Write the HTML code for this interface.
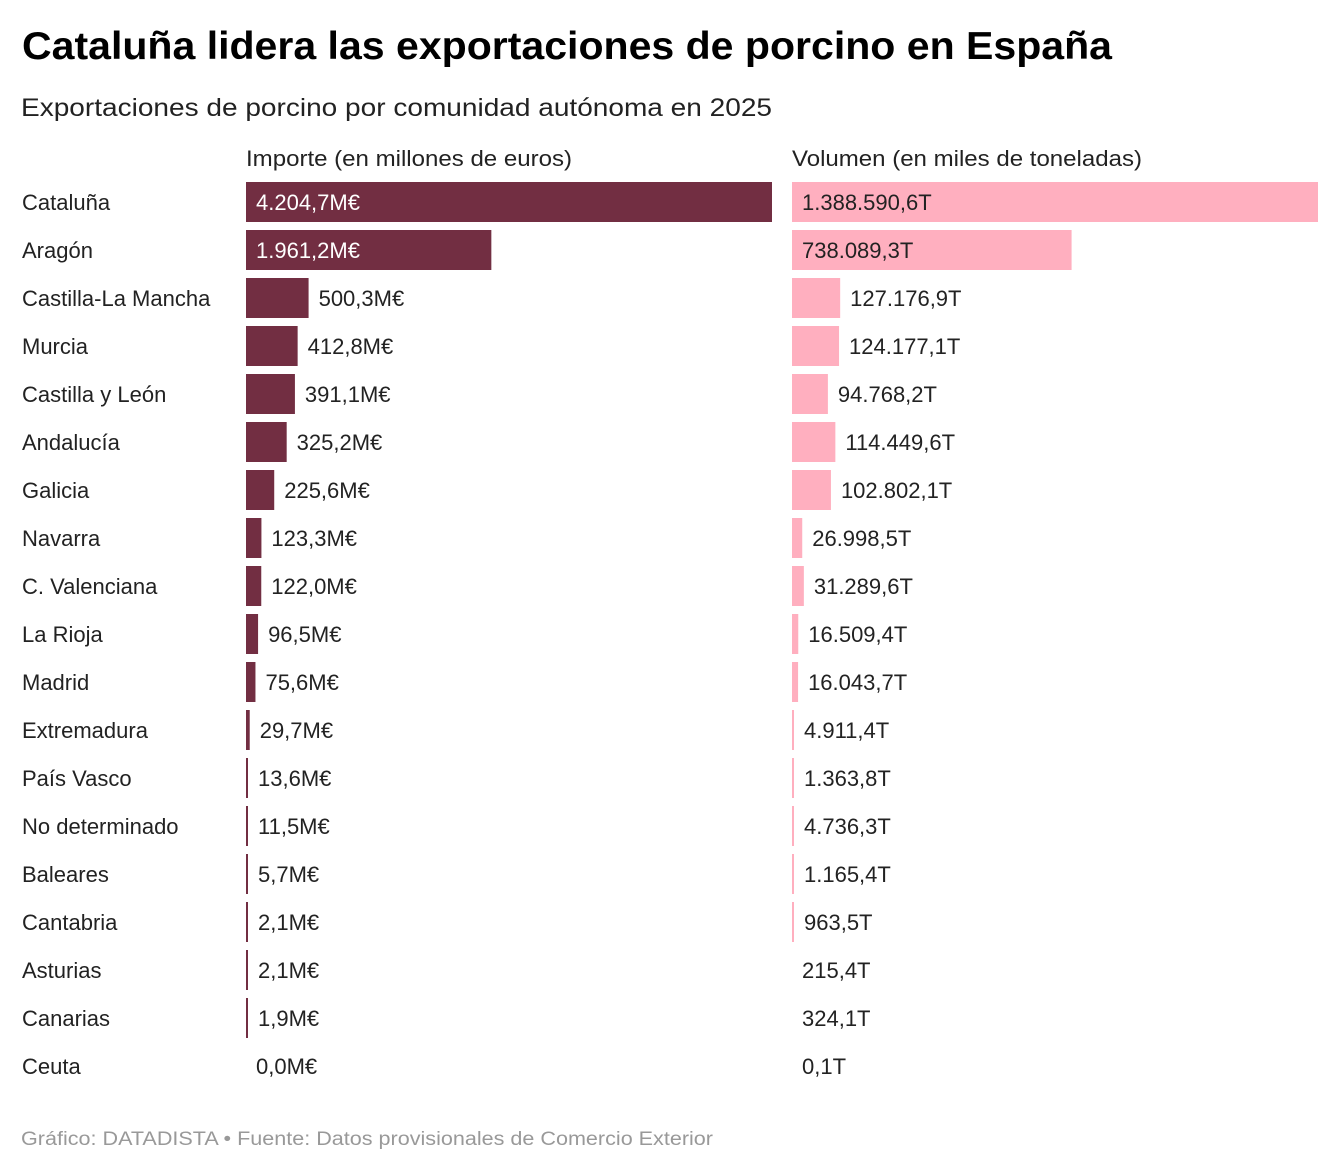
<!DOCTYPE html>
<html><head><meta charset="utf-8"><style>
body{margin:0;background:#fff;}
svg{display:block;font-family:"Liberation Sans",sans-serif;}
</style></head><body>
<svg id="chart" width="1340" height="1172" viewBox="0 0 1340 1172">
<text x="22" y="59" font-size="39" font-weight="bold" fill="#000" textLength="1090" lengthAdjust="spacingAndGlyphs">Cataluña lidera las exportaciones de porcino en España</text>
<text x="21" y="116" font-size="25" fill="#222" textLength="751" lengthAdjust="spacingAndGlyphs">Exportaciones de porcino por comunidad autónoma en 2025</text>
<text x="246" y="166" font-size="22" fill="#222" textLength="326" lengthAdjust="spacingAndGlyphs">Importe (en millones de euros)</text>
<text x="792" y="166" font-size="22" fill="#222" textLength="350" lengthAdjust="spacingAndGlyphs">Volumen (en miles de toneladas)</text>
<g id="rows"></g>
<text x="21" y="1145" font-size="19" fill="#999" textLength="692" lengthAdjust="spacingAndGlyphs">Gráfico: DATADISTA • Fuente: Datos provisionales de Comercio Exterior</text>
</svg>
<script>
const regions = ["Cataluña","Aragón","Castilla-La Mancha","Murcia","Castilla y León","Andalucía","Galicia","Navarra","C. Valenciana","La Rioja","Madrid","Extremadura","País Vasco","No determinado","Baleares","Cantabria","Asturias","Canarias","Ceuta"];
const importe = [4204.7,1961.2,500.3,412.8,391.1,325.2,225.6,123.3,122.0,96.5,75.6,29.7,13.6,11.5,5.7,2.1,2.1,1.9,0.0];
const volumen = [1388590.6,738089.3,127176.9,124177.1,94768.2,114449.6,102802.1,26998.5,31289.6,16509.4,16043.7,4911.4,1363.8,4736.3,1165.4,963.5,215.4,324.1,0.1];
const importeLabels = ["4.204,7M€","1.961,2M€","500,3M€","412,8M€","391,1M€","325,2M€","225,6M€","123,3M€","122,0M€","96,5M€","75,6M€","29,7M€","13,6M€","11,5M€","5,7M€","2,1M€","2,1M€","1,9M€","0,0M€"];
const volumenLabels = ["1.388.590,6T","738.089,3T","127.176,9T","124.177,1T","94.768,2T","114.449,6T","102.802,1T","26.998,5T","31.289,6T","16.509,4T","16.043,7T","4.911,4T","1.363,8T","4.736,3T","1.165,4T","963,5T","215,4T","324,1T","0,1T"];

const NS="http://www.w3.org/2000/svg";
const g=document.getElementById('rows');
const W=526, top0=182, step=48, bh=40;
const xImp = v => v/Math.max(...importe)*W;
const xVol = v => v/Math.max(...volumen)*W;
function mk(tag,attrs){const e=document.createElementNS(NS,tag);for(const k in attrs)e.setAttribute(k,attrs[k]);return e;}
function panel(x0,w,label,fill,inColor,name,i,thresh){
  let bw=w;
  if(bw>=0.2&&bw<2)bw=2; else if(bw<0.2)bw=0;
  const y=top0+i*step;
  const r=mk('rect',{x:x0,y:y,width:bw,height:bh,fill:fill});
  
  
  g.appendChild(r);
  const inside=bw>thresh;
  const t=mk('text',{x:inside?x0+10:x0+bw+10,y:y+28,'font-size':22,fill:inside?inColor:'#222'});
  
  
  t.textContent=label;
  g.appendChild(t);
}
regions.forEach((reg,i)=>{
  const y=top0+i*step;
  const t=mk('text',{x:22,y:y+28,'font-size':22,fill:'#222'});
  
  
  t.textContent=reg;
  g.appendChild(t);
  panel(246,xImp(importe[i]),importeLabels[i],'#722e42','#fff','importe',i,150);
  panel(792,xVol(volumen[i]),volumenLabels[i],'#ffafbf','#222','volumen',i,150);
});
</script>
</body></html>
